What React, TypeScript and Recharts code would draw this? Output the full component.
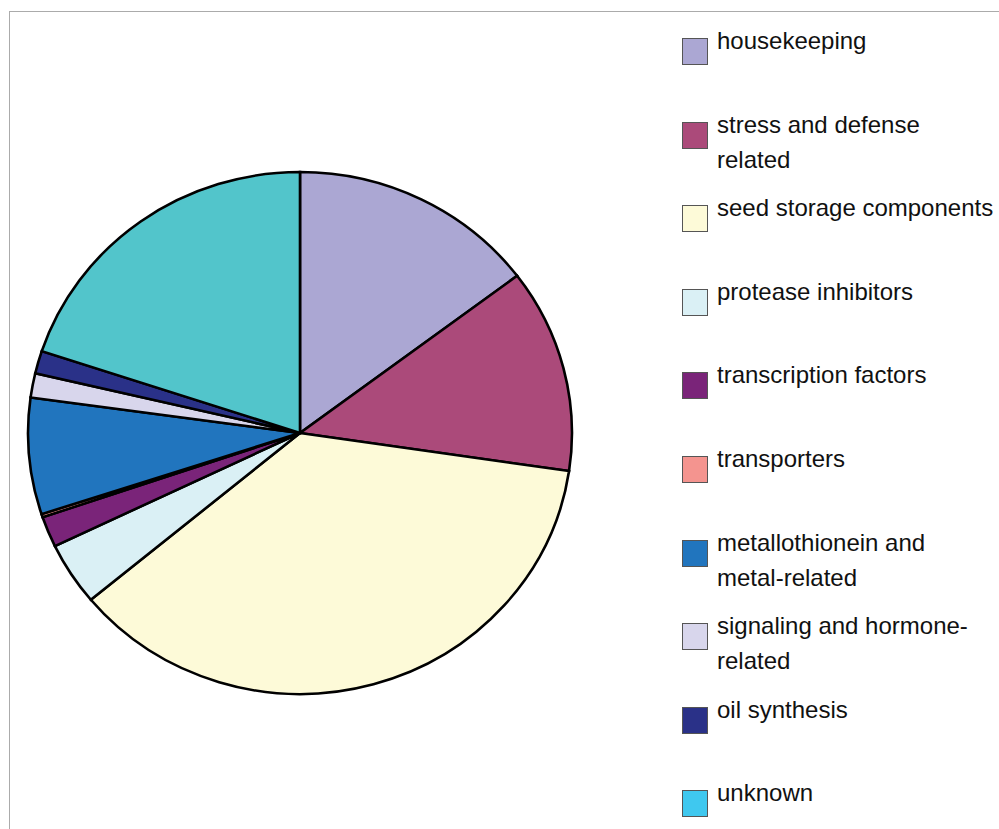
import React from 'react'
import { PieChart, Pie, Cell } from 'recharts'

// categories, clockwise from 12 o'clock
const categories = [
  'housekeeping',
  'stress and defense related',
  'seed storage components',
  'protease inhibitors',
  'transcription factors',
  'transporters',
  'metallothionein and metal-related',
  'signaling and hormone-related',
  'oil synthesis',
  'unknown'
]

// share of each category, in percent
const shares = [14.7, 12.6, 36.6, 3.9, 1.9, 0.2, 7.2, 1.5, 1.4, 19.9]

const sliceColors = [
  '#ABA7D3',
  '#AB4A7A',
  '#FDFAD8',
  '#DAF0F5',
  '#7A2479',
  '#F4948F',
  '#2175BE',
  '#D8D6EC',
  '#2A3188',
  '#52C5CB'
]

// the legend swatch for "unknown" is a brighter cyan than its slice
const legendColors = [
  '#ABA7D3',
  '#AB4A7A',
  '#FDFAD8',
  '#DAF0F5',
  '#7A2479',
  '#F4948F',
  '#2175BE',
  '#D8D6EC',
  '#2A3188',
  '#3FC8EF'
]

const data = categories.map((name, i) => ({ name, value: shares[i] }))

const PIE_W = 560
const PIE_H = 540
const RADIUS = 261

export default function App() {
  return (
    <div
      style={{
        position: 'absolute',
        left: 0,
        top: 0,
        width: 999,
        height: 829,
        overflow: 'hidden',
        background: '#fff',
        fontFamily: '"Liberation Sans", Arial, sans-serif'
      }}
    >
      {/* frame */}
      <div
        style={{
          position: 'absolute',
          left: 9,
          top: 11,
          width: 1100,
          height: 1100,
          borderTop: '1px solid #ABABAB',
          borderLeft: '1px solid #ABABAB'
        }}
      />

      {/* pie is slightly wider than tall in the original, so stretch it a bit */}
      <div
        style={{
          position: 'absolute',
          left: 300 - PIE_W / 2,
          top: 433 - PIE_H / 2,
          width: PIE_W,
          height: PIE_H,
          transform: 'scaleX(1.042)',
          transformOrigin: `${PIE_W / 2}px ${PIE_H / 2}px`
        }}
      >
        <PieChart width={PIE_W} height={PIE_H} margin={{ top: 0, right: 0, bottom: 0, left: 0 }}>
          <Pie
            data={data}
            dataKey="value"
            nameKey="name"
            cx={PIE_W / 2}
            cy={PIE_H / 2}
            outerRadius={RADIUS}
            innerRadius={0}
            startAngle={90}
            endAngle={-270}
            stroke="#000"
            strokeWidth={2.5}
            label={false}
            labelLine={false}
            isAnimationActive={false}
          >
            {data.map((entry, index) => (
              <Cell key={`cell-${index}`} fill={sliceColors[index]} stroke="#000" strokeWidth={2.5} />
            ))}
          </Pie>
        </PieChart>
      </div>

      {/* legend */}
      {categories.map((name, i) => (
        <div
          key={name}
          style={{
            position: 'absolute',
            left: 682,
            top: 38 + i * 83.6,
            display: 'flex',
            alignItems: 'flex-start'
          }}
        >
          <div
            style={{
              width: 24,
              height: 25,
              background: legendColors[i],
              border: '1px solid #555',
              flexShrink: 0
            }}
          />
          <div
            style={{
              marginLeft: 9,
              marginTop: -15,
              width: 279,
              fontSize: 24,
              lineHeight: '35px',
              color: '#111'
            }}
          >
            {name}
          </div>
        </div>
      ))}
    </div>
  )
}
